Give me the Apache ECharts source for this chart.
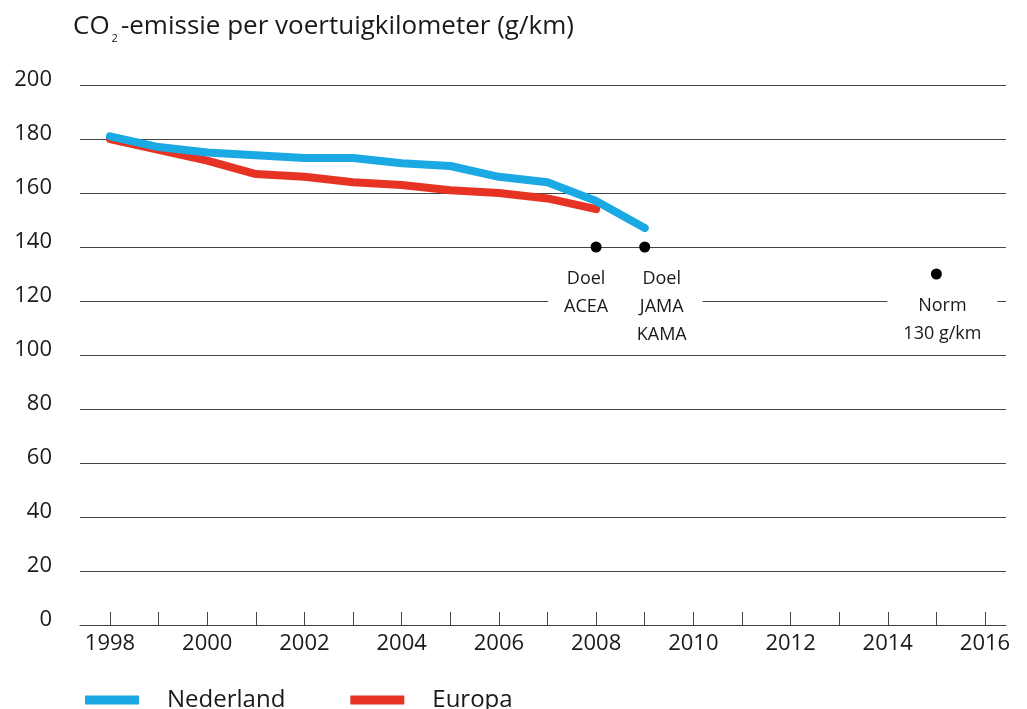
<!DOCTYPE html>
<html>
<head>
<meta charset="utf-8">
<script src="https://cdn.jsdelivr.net/npm/echarts@6/dist/echarts.min.js"></script>
<style>
html,body{margin:0;padding:0;background:#fff;}
#c{width:1027px;height:709px;}
</style>
</head>
<body>
<div id="c"></div>
<script>
const years = [1998,1999,2000,2001,2002,2003,2004,2005,2006,2007,2008,2009];
const nederland = [181,177,175,174,173,173,171,170,166,164,157,147];
const europa = [180,176,172,167,166,164,163,161,160,158,154];
const targetLabels = ['Doel\nACEA','Doel\nJAMA\nKAMA','Norm\n130 g/km'];
const targetYears = [2008,2009,2015];
const targetValues = [140,140,130];
const yTicks = [0,20,40,60,80,100,120,140,160,180,200];

const FONT = '"Open Sans", "Noto Sans", sans-serif';
const TXT = '#1a1a1a';
const labelOffsets = [[-10,0],[17,0],[6,0]];

const chart = echarts.init(document.getElementById('c'), null, {renderer:'canvas'});
chart.setOption({
  animation:false,
  backgroundColor:'#fff',
  textStyle:{fontFamily:FONT},
  title:{
    left:68, top:5,
    text:'{n|CO}{s|2}{n|-emissie per voertuigkilometer (g/km)}',
    textStyle:{
      fontWeight:'normal',
      rich:{
        n:{fontSize:26, fontFamily:FONT, fontWeight:'normal', color:TXT, lineHeight:34},
        s:{fontSize:11, fontFamily:FONT, fontWeight:'normal', color:TXT, verticalAlign:'bottom', padding:[0,3,0,2]}
      }
    }
  },
  legend:{
    left:80, top:683,
    icon:'rect', itemWidth:54, itemHeight:9, itemGap:65,
    textStyle:{fontSize:24, color:TXT, fontFamily:FONT, padding:[0,0,0,23]},
    data:['Nederland','Europa']
  },
  grid:[
    {left:80, right:21, top:85, height:540},
    {left:110, right:42, top:85, height:540}
  ],
  xAxis:[
    {gridIndex:0, type:'value', min:0, max:1,
     axisLine:{show:true, lineStyle:{color:'#444', width:1}},
     axisTick:{show:false}, axisLabel:{show:false}, splitLine:{show:false}},
    {gridIndex:1, type:'value', min:years[0], max:2016, interval:1,
     axisLine:{show:false},
     axisTick:{show:true, inside:true, length:13, lineStyle:{color:'#444', width:1}},
     axisLabel:{show:true, margin:8, fontSize:22, color:TXT, fontFamily:FONT,
       formatter:v => (v % 2 === 0 ? String(v) : '')},
     splitLine:{show:false}}
  ],
  yAxis:[
    {gridIndex:0, type:'value', min:yTicks[0], max:yTicks[yTicks.length-1], interval:20,
     axisLine:{show:false}, axisTick:{show:false},
     axisLabel:{margin:28, fontSize:22, color:TXT, fontFamily:FONT,
       verticalAlign:'bottom', lineHeight:10},
     splitLine:{show:true, lineStyle:{color:'#444', width:1}}},
    {gridIndex:1, type:'value', min:0, max:200, show:false}
  ],
  series:[
    {name:'Europa', type:'line', xAxisIndex:1, yAxisIndex:1,
     data:europa.map((v,i)=>[years[i],v]),
     symbol:'none', z:3,
     lineStyle:{color:'#e63323', width:8, cap:'round', join:'round'},
     itemStyle:{color:'#e63323'}},
    {name:'Nederland', type:'line', xAxisIndex:1, yAxisIndex:1,
     data:nederland.map((v,i)=>[years[i],v]),
     symbol:'none', z:4,
     lineStyle:{color:'#1aa9e2', width:8, cap:'round', join:'round'},
     itemStyle:{color:'#1aa9e2'}},
    {name:'doelen', type:'scatter', xAxisIndex:1, yAxisIndex:1,
     symbol:'circle', symbolSize:11, z:5,
     itemStyle:{color:'#000', opacity:1},
     data:targetYears.map((y,i)=>({
       name:targetLabels[i], value:[y,targetValues[i]],
       label:{offset:labelOffsets[i]}
     })),
     label:{show:true, position:'bottom', distance:12, formatter:p=>p.name,
       fontSize:18, lineHeight:28, color:TXT, fontFamily:FONT, opacity:1,
       backgroundColor:'#fff', padding:[0,16], align:'center'}}
  ]
});
</script>
</body>
</html>
